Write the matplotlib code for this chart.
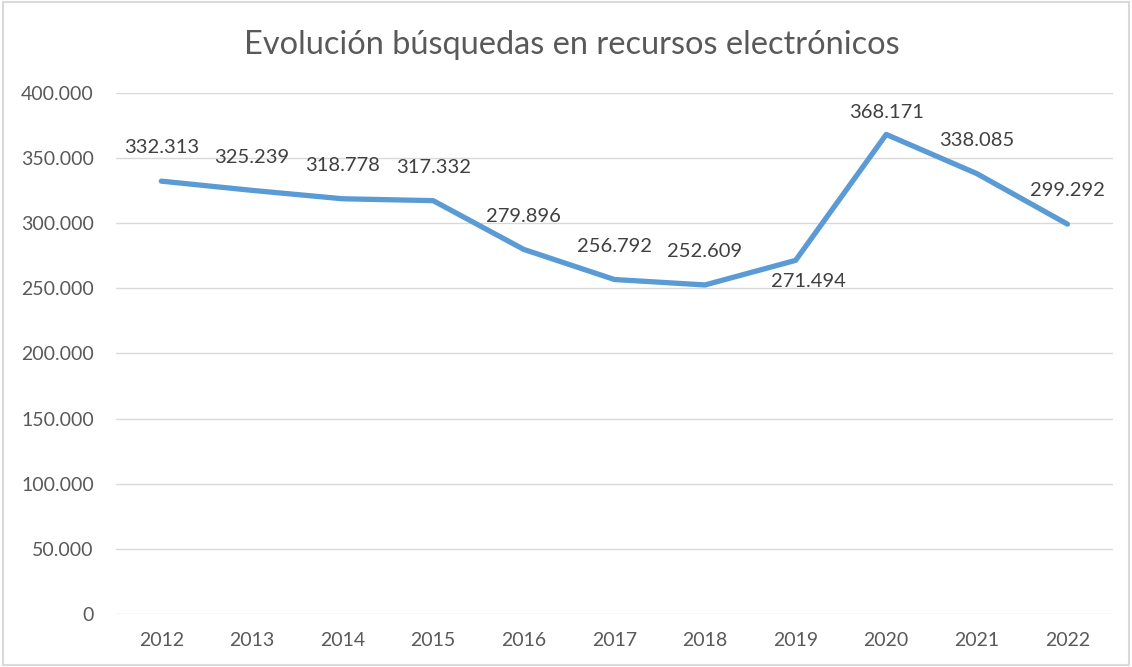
import matplotlib
matplotlib.use("Agg")
import matplotlib.pyplot as plt
from matplotlib.patches import Rectangle

years = ["2012", "2013", "2014", "2015", "2016", "2017", "2018", "2019", "2020", "2021", "2022"]
searches = [332313, 325239, 318778, 317332, 279896, 256792, 252609, 271494, 368171, 338085, 299292]
yticks = [0, 50000, 100000, 150000, 200000, 250000, 300000, 350000, 400000]


def es_fmt(v):
    return f"{v:,}".replace(",", ".")


plt.rcParams["font.family"] = ["Lato", "DejaVu Sans"]

fig = plt.figure(figsize=(11.32, 6.67), dpi=100)
fig.patches.append(Rectangle((0.003, 0.003), 0.994, 0.994, transform=fig.transFigure,
                             fill=False, edgecolor="#d9d9d9", linewidth=1.5))
ax = fig.add_axes([0.1025, 0.0795, 0.8805, 0.7811])

x = list(range(len(years)))
ax.plot(x, searches, color="#5b9bd5", linewidth=3.8, solid_capstyle="round", zorder=3)

# label offsets in points; most sit above the point
offsets = {"2019": (9, -15), "2020": (0, 16)}
for i, v in enumerate(searches):
    dx, dy = offsets.get(years[i], (0, 24))
    ax.annotate(es_fmt(v), (i, v), xytext=(dx, dy), textcoords="offset points",
                ha="center", va="center", fontsize=14.5, color="#404040")

ax.set_xlim(-0.5, len(years) - 0.5)
ax.set_ylim(0, 400000)
ax.set_xticks(x)
ax.set_xticklabels(years)
ax.set_yticks(yticks)
ax.set_yticklabels([es_fmt(t) for t in yticks])
ax.tick_params(axis="both", length=0, labelsize=14, labelcolor="#595959")
ax.tick_params(axis="y", pad=16)
ax.tick_params(axis="x", pad=13)
ax.grid(axis="y", color="#d9d9d9", linewidth=1)
ax.set_axisbelow(True)
for s in ax.spines.values():
    s.set_visible(False)

fig.text(0.505, 0.933, "Evolución búsquedas en recursos electrónicos", ha="center", va="center",
         fontsize=23.4, color="#595959")

fig.savefig("out.png", dpi=100)
